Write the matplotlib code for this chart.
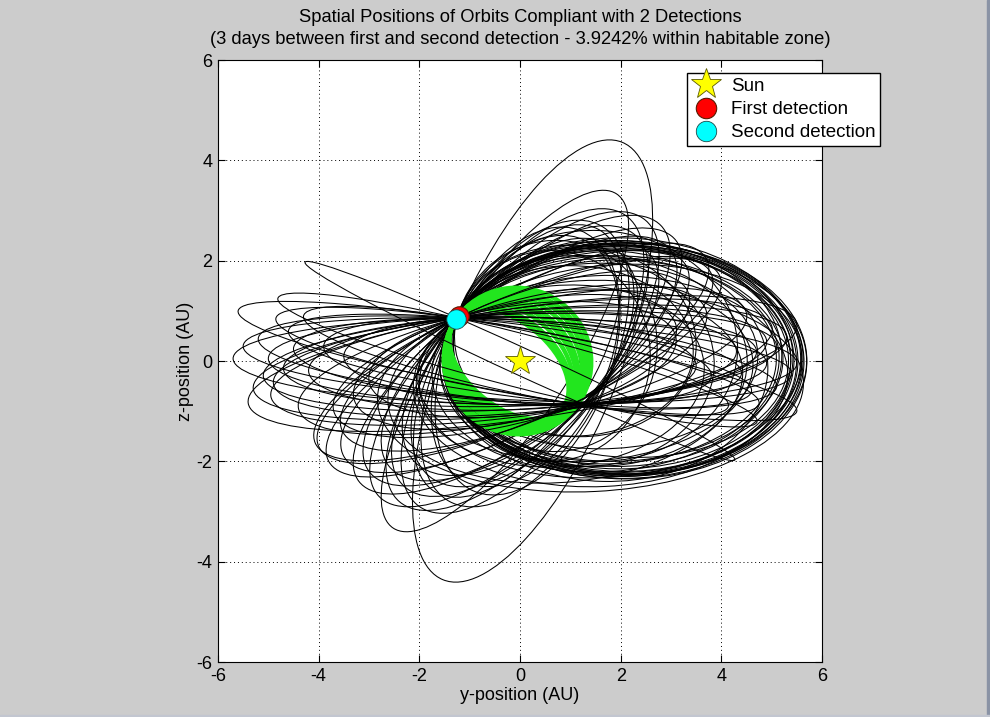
import numpy as np
import matplotlib.pyplot as plt
from matplotlib.patches import Ellipse, Rectangle

plt.rcParams.update({
    "font.family": ["Liberation Sans", "DejaVu Sans"],
    "axes.unicode_minus": False,
})

# detections (AU), orbits all pass through the detection point
first_det = (-1.21, 0.89)
second_det = (-1.27, 0.84)
det_y, det_z = -1.25, 0.86
sun = (0.0, 0.0)

# orbits: centre (cy, cz) and one axis end (ty, tz);
# the other semi-axis follows from the detection point
# big ellipses to the right (thick black one)
big_cy = [2.05, 2.00, 1.95, 2.10, 1.85, 2.00, 1.75, 2.05, 1.60, 1.90, 1.80, 2.00,
          2.02, 1.98, 2.08, 1.92, 2.06, 1.70, 1.50, 2.10]
big_cz = [0.05, 0.00, 0.05, 0.00, 0.05, 0.10, 0.00, -0.05, 0.10, 0.15, -0.20, 0.20,
          0.02, 0.03, 0.05, -0.02, -0.02, -0.10, 0.00, 0.10]
big_ty = [2.05, 2.02, 1.97, 2.10, 1.85, 2.05, 1.70, 2.00, 1.60, 1.95, 1.60, 2.20,
          2.04, 2.00, 2.10, 1.90, 2.05, 1.55, 1.50, 2.20]
big_tz = [2.35, 2.30, 2.25, 2.35, 2.10, 2.40, 2.05, 2.20, 1.95, 2.40, 1.90, 2.30,
          2.32, 2.28, 2.36, 2.22, 2.30, 2.00, 2.10, 2.45]

# medium ellipses to the right
mid_cy = [1.00, 1.30, 0.80, 1.50, 1.20, 1.60, 0.60, 0.90, 1.10, 1.40, 0.70, 1.70]
mid_cz = [0.20, -0.20, -0.30, 0.30, 0.00, -0.40, 0.10, -0.50, 0.40, -0.60, 0.30, -0.10]
mid_ty = [1.00, 1.20, 0.65, 1.60, 1.30, 1.50, 0.70, 0.70, 1.25, 1.30, 0.85, 1.75]
mid_tz = [1.90, 1.60, 1.50, 2.60, 2.10, 1.70, 2.20, 1.40, 2.30, 1.40, 2.40, 2.20]

# long loops reaching down-left / up-right
down_cy = [-0.30, 0.25, -0.05, 0.00, 0.05, 0.10, -0.05, 0.00, 0.15, 0.05, -0.10, 0.00,
           0.00, 0.05, -0.05, 0.10, -0.10, 0.00]
down_cz = [0.00, 0.00, 0.00, 0.00, 0.00, -0.05, 0.02, 0.00, 0.00, -0.03, 0.00, 0.00,
           0.00, 0.00, 0.00, 0.00, 0.02, -0.02]
down_ty = [-2.52, -1.53, -3.20, -2.80, -2.00, -1.40, -3.80, -2.30, -0.90, -1.80, -3.50, -2.60,
           -3.00, -2.40, -1.70, -1.10, -4.00, -2.10]
down_tz = [-3.33, -4.36, -2.40, -2.70, -2.90, -2.80, -2.00, -2.50, -2.60, -2.30, -1.90, -2.10,
           -2.20, -2.80, -2.60, -2.40, -1.70, -2.00]

# flat loops reaching far left / far right
flat_cy = [0.00, -0.05, -0.05, -0.10, 0.05, -0.05, 0.00, -0.05, -0.10,
           0.00, -0.05, 0.05, -0.05, 0.00, -0.10, 0.00, -0.05, 0.05,
           -0.05, 0.00, 0.05, -0.05, 0.00, -0.08, 0.03, 0.00]
flat_cz = [0.00, 0.02, 0.00, 0.00, -0.05, 0.00, -0.02, 0.03, 0.00,
           0.00, -0.03, 0.00, 0.00, 0.02, -0.02, 0.00, 0.00, 0.03,
           0.00, -0.03, 0.00, 0.02, 0.00, 0.00, -0.02, 0.00]
flat_ty = [-4.27, -4.81, -5.60, -5.70, -5.40, -5.00, -4.90, -4.07, -3.54,
           -4.60, -5.20, -4.40, -3.90, -4.70, -3.30, -5.10, -4.50, -3.00,
           -4.85, -5.30, -4.20, -5.50, -3.70, -4.30, -4.95, -3.50]
flat_tz = [1.97, 1.25, 1.00, 0.05, -0.84, 0.05, -0.44, -1.63, -1.37,
           0.60, 0.45, -0.95, 0.30, -0.15, -0.75, -0.30, 0.25, -0.40,
           0.85, -0.55, -0.20, 0.30, -1.00, 0.90, -0.70, 0.10]

# orbits within the habitable zone
hab_cy = [-0.05, -0.07, -0.10, -0.11, -0.14, -0.15, -0.18, -0.20, -0.22]
hab_cz = [0.00, -0.01, -0.02, -0.02, -0.03, -0.03, -0.04, -0.05, -0.06]
hab_ty = [0.88, 0.83, 0.77, 0.71, 0.63, 0.57, 0.49, 0.39, 0.32]
hab_tz = [1.11, 1.03, 0.97, 0.89, 0.82, 0.76, 0.70, 0.63, 0.58]


def orbit(cy, cz, ty, tz, **kw):
    ey, ez = ty - cy, tz - cz
    s = np.hypot(ey, ez)
    ey, ez = ey / s, ez / s
    dy, dz = det_y - cy, det_z - cz
    along = dy * ey + dz * ez
    perp = -dy * ez + dz * ey
    other = abs(perp) / np.sqrt(1 - (along / s) ** 2)
    ang = np.degrees(np.arctan2(ez, ey))
    return Ellipse((cy, cz), 2 * s, 2 * other, angle=ang, fill=False, **kw)


fig = plt.figure(figsize=(9.9, 7.17), dpi=100, facecolor="#cccccc")
# window edge of the screenshot
fig.patches.append(Rectangle((0.9965, 0), 0.0035, 1, transform=fig.transFigure,
                             color="#8a93a5", zorder=0))
fig.patches.append(Rectangle((0, 0), 1, 0.003, transform=fig.transFigure,
                             color="#c2c6d0", zorder=0))
ax = fig.add_axes([0.2202, 0.0767, 0.6101, 0.8396])

black = dict(edgecolor="black", linewidth=0.75)
for cys, czs, tys, tzs, z in [(big_cy, big_cz, big_ty, big_tz, 2),
                              (mid_cy, mid_cz, mid_ty, mid_tz, 2),
                              (down_cy, down_cz, down_ty, down_tz, 2),
                              (flat_cy, flat_cz, flat_ty, flat_tz, 2.4)]:
    for cy, cz, ty, tz in zip(cys, czs, tys, tzs):
        ax.add_patch(orbit(cy, cz, ty, tz, zorder=z, **black))

for cy, cz, ty, tz in zip(hab_cy, hab_cz, hab_ty, hab_tz):
    ax.add_patch(orbit(cy, cz, ty, tz, edgecolor="#22e61e", linewidth=3.2,
                       zorder=2.2))

ax.plot(*sun, "*", ms=22, mfc="#ffff00", mec="#5a5a00", mew=0.6, ls="none",
        zorder=5, label="Sun")
ax.plot(*first_det, "o", ms=14, mfc="red", mec="#5a1a00", mew=0.8, ls="none",
        zorder=5, label="First detection")
ax.plot(*second_det, "o", ms=14, mfc="cyan", mec="#1a4a4a", mew=0.6, ls="none",
        zorder=6, label="Second detection")

ax.set_xlim(-6, 6)
ax.set_ylim(-6, 6)
ax.set_xticks(np.arange(-6, 7, 2))
ax.set_yticks(np.arange(-6, 7, 2))
ax.tick_params(direction="in", top=True, right=True, length=5, labelsize=13,
               pad=4)
ax.grid(True, color="black", linestyle=(0, (1, 3)), linewidth=0.7)
ax.set_axisbelow(True)
for sp in ax.spines.values():
    sp.set_linewidth(0.8)

ax.set_xlabel("y-position (AU)", fontsize=13, labelpad=2)
ax.set_ylabel("z-position (AU)", fontsize=13, labelpad=2)
ax.set_title("Spatial Positions of Orbits Compliant with 2 Detections\n"
             "(3 days between first and second detection - 3.9242% within habitable zone)",
             fontsize=13.2, pad=11.5, linespacing=1.42)

fig.legend(loc="upper left", bbox_to_anchor=(0.694, 0.898), fontsize=13.5,
           frameon=True, fancybox=False, edgecolor="black", framealpha=1,
           borderpad=0.25, labelspacing=0.32, handlelength=1.5,
           handletextpad=0.6, borderaxespad=0, markerscale=1.05)

fig.savefig("out.png", dpi=100, facecolor=fig.get_facecolor())
